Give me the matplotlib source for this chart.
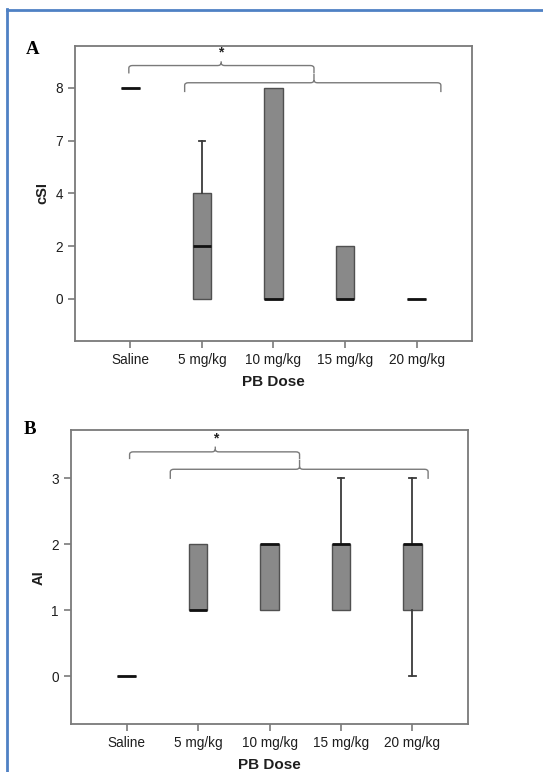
import matplotlib
matplotlib.use("Agg")
import matplotlib.pyplot as plt
from matplotlib.path import Path
from matplotlib.patches import PathPatch
from matplotlib.lines import Line2D

# ---------------- data ----------------
doses = ['Saline', '5 mg/kg', '10 mg/kg', '15 mg/kg', '20 mg/kg']

csi_levels = [0, 2, 4, 7, 8]          # ordinal tick labels (panel A)
csi_whislo = [8, 0, 0, 0, 0]
csi_q1 = [8, 0, 0, 0, 0]
csi_med = [8, 2, 0, 0, 0]
csi_q3 = [8, 4, 8, 2, 0]
csi_whishi = [8, 7, 8, 2, 0]

ai_levels = [0, 1, 2, 3]
ai_whislo = [0, 1, 1, 1, 0]
ai_q1 = [0, 1, 1, 1, 1]
ai_med = [0, 1, 2, 2, 2]
ai_q3 = [0, 2, 2, 2, 2]
ai_whishi = [0, 2, 2, 3, 3]

# ---------------- style ----------------
W, H = 543, 772
fig = plt.figure(figsize=(W / 100, H / 100), dpi=100)
SANS = ['Liberation Sans', 'DejaVu Sans']
SERIF = ['Liberation Serif', 'DejaVu Serif']
SPINE = '#7a7a7a'
BRK = '#7a7a7a'


def rank(levels, v):
    return levels.index(v)


def make_stats(levels, lo, q1, med, q3, hi):
    st = []
    for i in range(len(doses)):
        st.append(dict(whislo=rank(levels, lo[i]), q1=rank(levels, q1[i]),
                       med=rank(levels, med[i]), q3=rank(levels, q3[i]),
                       whishi=rank(levels, hi[i]), fliers=[], label=doses[i]))
    return st


def brace(ax, x0, x1, xc, yb, yend, ytip, rx=0.05, ry=0.05):
    verts = [(x0, yend), (x0, yb - ry), (x0, yb), (x0 + rx, yb),
             (xc - rx, yb), (xc, yb), (xc, yb + ry), (xc, ytip),
             (xc, yb + ry), (xc, yb), (xc + rx, yb),
             (x1 - rx, yb), (x1, yb), (x1, yb - ry), (x1, yend)]
    codes = [Path.MOVETO, Path.LINETO, Path.CURVE3, Path.CURVE3,
             Path.LINETO, Path.CURVE3, Path.CURVE3, Path.LINETO,
             Path.MOVETO, Path.CURVE3, Path.CURVE3,
             Path.LINETO, Path.CURVE3, Path.CURVE3, Path.LINETO]
    ax.add_patch(PathPatch(Path(verts, codes), fill=False, edgecolor=BRK,
                           lw=1.0, clip_on=False))


def draw_panel(rect, stats, levels, ylim, xlim, ylabel, letter, letter_xy,
               br1, br2, star_xy):
    ax = fig.add_axes(rect)
    parts = ax.bxp(stats, positions=range(len(doses)), widths=0.26,
                   patch_artist=True, showfliers=False, capwidths=0.09,
                   boxprops=dict(facecolor='#898989', edgecolor='#505050', lw=1.0),
                   medianprops=dict(color='#111111', lw=2.0, solid_capstyle='butt'),
                   whiskerprops=dict(color='#3a3a3a', lw=1.3),
                   capprops=dict(color='#3a3a3a', lw=1.3))
    for i, st in enumerate(stats):
        if st['whislo'] == st['q1']:
            parts['caps'][2 * i].set_visible(False)
            parts['whiskers'][2 * i].set_visible(False)
        if st['whishi'] == st['q3']:
            parts['caps'][2 * i + 1].set_visible(False)
            parts['whiskers'][2 * i + 1].set_visible(False)
    ax.set_xlim(*xlim)
    ax.set_ylim(*ylim)
    ax.set_yticks(range(len(levels)))
    ax.set_yticklabels([str(v) for v in levels])
    ax.set_xticks(range(len(doses)))
    ax.set_xticklabels(doses)
    for s in ax.spines.values():
        s.set_color(SPINE)
        s.set_linewidth(1.3)
    ax.tick_params(axis='both', direction='out', length=5, width=1.2,
                   color=SPINE, labelsize=9.8, labelcolor='#1e1e1e', pad=3.5)
    for lab in ax.get_xticklabels() + ax.get_yticklabels():
        lab.set_family(SANS)
    ax.set_xlabel('PB Dose', fontsize=11, fontweight='bold', family=SANS,
                  color='#1e1e1e', labelpad=6)
    ax.set_ylabel(ylabel, fontsize=10.5, fontweight='bold', family=SANS,
                  color='#1e1e1e', labelpad=4)
    brace(ax, *br1)
    brace(ax, *br2)
    ax.text(star_xy[0], star_xy[1], '*', ha='center', va='center',
            fontsize=10, fontweight='bold', color='#222222', family=SANS)
    fig.text(letter_xy[0] / W, 1 - letter_xy[1] / H, letter, ha='center',
             va='center', fontsize=13.5, fontweight='bold', family=SERIF)
    return ax


statsA = make_stats(csi_levels, csi_whislo, csi_q1, csi_med, csi_q3, csi_whishi)
statsB = make_stats(ai_levels, ai_whislo, ai_q1, ai_med, ai_q3, ai_whishi)

draw_panel([74.8 / W, 1 - 340.7 / H, (472 - 74.8) / W, (340.7 - 46) / H],
           statsA, csi_levels, (-0.79, 4.79), (-0.775, 4.775), 'cSI', 'A',
           (33, 50),
           (-0.02, 2.567, 1.27, 4.42, 4.27, 4.50, 0.05, 0.05),
           (0.76, 4.34, 2.567, 4.094, 3.917, 4.26, 0.05, 0.05),
           (1.27, 4.66))

draw_panel([70.6 / W, 1 - 724 / H, (468.1 - 70.6) / W, (724 - 430.3) / H],
           statsB, ai_levels, (-0.727, 3.727), (-0.786, 4.78), 'AI', 'B',
           (29.5, 430),
           (0.04, 2.42, 1.24, 3.40, 3.29, 3.48, 0.05, 0.04),
           (0.61, 4.22, 2.42, 3.136, 2.99, 3.28, 0.05, 0.04),
           (1.24, 3.60))

# blue frame (top and left edges)
fig.add_artist(Line2D([6.5 / W, 1.0], [1 - 10 / H, 1 - 10 / H],
                      transform=fig.transFigure, color='#4f81c4', lw=2.0))
fig.add_artist(Line2D([6.5 / W, 6.5 / W], [1 - 9 / H, 0.0],
                      transform=fig.transFigure, color='#4f81c4', lw=2.0))

fig.savefig('out.png', dpi=100)
